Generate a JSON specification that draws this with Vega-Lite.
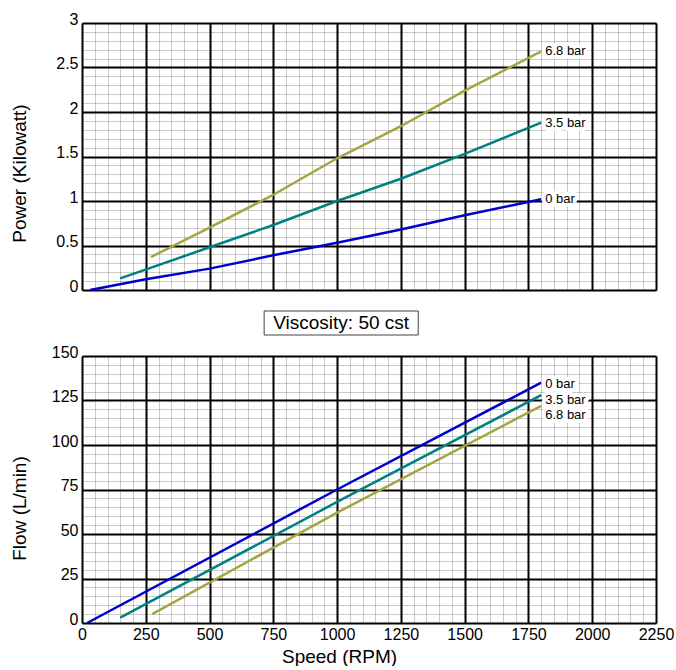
{
  "$schema": "https://vega.github.io/schema/vega-lite/v6.json",
  "background": "white",
  "padding": {"left": 10, "top": 11, "right": 0, "bottom": 0},
  "config": {
    "font": "Liberation Sans",
    "view": {"stroke": null},
    "axis": {"labelColor": "black", "titleColor": "black", "titleFontWeight": "normal", "labelFlush": false, "labelOverlap": false, "labelBound": false}
  },
  "datasets": {
    "curves": [
      {"chart": "Power", "series": "0 bar", "speed": 32, "value": 0},
      {"chart": "Power", "series": "0 bar", "speed": 250, "value": 0.12},
      {"chart": "Power", "series": "0 bar", "speed": 500, "value": 0.24},
      {"chart": "Power", "series": "0 bar", "speed": 750, "value": 0.39},
      {"chart": "Power", "series": "0 bar", "speed": 1000, "value": 0.53},
      {"chart": "Power", "series": "0 bar", "speed": 1250, "value": 0.68},
      {"chart": "Power", "series": "0 bar", "speed": 1500, "value": 0.84},
      {"chart": "Power", "series": "0 bar", "speed": 1800, "value": 1.02},
      {"chart": "Power", "series": "3.5 bar", "speed": 150, "value": 0.13},
      {"chart": "Power", "series": "3.5 bar", "speed": 500, "value": 0.48},
      {"chart": "Power", "series": "3.5 bar", "speed": 750, "value": 0.73},
      {"chart": "Power", "series": "3.5 bar", "speed": 1000, "value": 1.0},
      {"chart": "Power", "series": "3.5 bar", "speed": 1250, "value": 1.25},
      {"chart": "Power", "series": "3.5 bar", "speed": 1500, "value": 1.53},
      {"chart": "Power", "series": "3.5 bar", "speed": 1800, "value": 1.88},
      {"chart": "Power", "series": "6.8 bar", "speed": 270, "value": 0.37},
      {"chart": "Power", "series": "6.8 bar", "speed": 500, "value": 0.7},
      {"chart": "Power", "series": "6.8 bar", "speed": 750, "value": 1.07},
      {"chart": "Power", "series": "6.8 bar", "speed": 1000, "value": 1.48},
      {"chart": "Power", "series": "6.8 bar", "speed": 1250, "value": 1.84},
      {"chart": "Power", "series": "6.8 bar", "speed": 1500, "value": 2.24},
      {"chart": "Power", "series": "6.8 bar", "speed": 1800, "value": 2.68},
      {"chart": "Flow", "series": "0 bar", "speed": 20, "value": 0},
      {"chart": "Flow", "series": "0 bar", "speed": 1000, "value": 75},
      {"chart": "Flow", "series": "0 bar", "speed": 1800, "value": 135},
      {"chart": "Flow", "series": "3.5 bar", "speed": 150, "value": 3},
      {"chart": "Flow", "series": "3.5 bar", "speed": 1000, "value": 68},
      {"chart": "Flow", "series": "3.5 bar", "speed": 1800, "value": 128},
      {"chart": "Flow", "series": "6.8 bar", "speed": 275, "value": 5},
      {"chart": "Flow", "series": "6.8 bar", "speed": 1000, "value": 62},
      {"chart": "Flow", "series": "6.8 bar", "speed": 1800, "value": 122}
    ],
    "note": [{"label": "Viscosity: 50 cst", "start": 714, "end": 1318, "mid": 1016}]
  },
  "bounds": "flush",
  "spacing": 21,
  "vconcat": [
    {
      "width": 574,
      "height": 267,
      "data": {"name": "curves"},
      "transform": [{"filter": "datum.chart === 'Power'"}],
      "layer": [
        {
          "mark": {"type": "line", "strokeWidth": 2.5},
          "encoding": {
            "x": {"field": "speed", "type": "quantitative", "scale": {"domain": [0, 2250], "nice": false, "zero": false},
              "axis": {"orient": "bottom", "values": [0,50,100,150,200,250,300,350,400,450,500,550,600,650,700,750,800,850,900,950,1000,1050,1100,1150,1200,1250,1300,1350,1400,1450,1500,1550,1600,1650,1700,1750,1800,1850,1900,1950,2000,2050,2100,2150,2200,2250],
                "grid": true, "gridColor": "#c8c8c8", "gridWidth": 1, "labels": false, "ticks": false, "domain": false, "title": null, "zindex": 0}},
            "y": {"field": "value", "type": "quantitative", "scale": {"domain": [0, 3], "nice": false},
              "axis": {"orient": "left", "values": [0,0.1,0.2,0.3,0.4,0.5,0.6,0.7,0.8,0.9,1,1.1,1.2,1.3,1.4,1.5,1.6,1.7,1.8,1.9,2,2.1,2.2,2.3,2.4,2.5,2.6,2.7,2.8,2.9,3],
                "grid": true, "gridColor": "black", "gridOpacity": 0.2, "gridWidth": 1, "labels": false, "ticks": false, "domain": false, "title": null, "zindex": 0}},
            "color": {"field": "series", "type": "nominal", "scale": {"domain": ["0 bar", "3.5 bar", "6.8 bar"], "range": ["#0000c8", "#008080", "#a5a53f"]}, "legend": null}
          }
        },
        {
          "transform": [{"filter": "datum.speed === 1800"}],
          "mark": {"type": "text", "align": "left", "baseline": "middle", "dx": 4, "fontSize": 13, "fill": "white", "stroke": "white", "strokeWidth": 8, "strokeJoin": "round"},
          "encoding": {
            "x": {"field": "speed", "type": "quantitative",
              "axis": {"orient": "bottom", "values": [0,250,500,750,1000,1250,1500,1750,2000,2250], "grid": true, "gridColor": "black", "gridWidth": 2, "labels": false, "ticks": false, "domain": false, "title": null, "zindex": 0}},
            "y": {"field": "value", "type": "quantitative",
              "axis": {"orient": "left", "values": [0,0.5,1,1.5,2,2.5,3], "grid": true, "gridColor": "black", "gridWidth": 2, "ticks": false, "domain": false, "labelExpr": "'' + datum.value", "labelFontSize": 16, "labelPadding": 4, "labelOffset": -4, "title": "Power (Kilowatt)", "titleFontSize": 19, "titleX": -53, "titleY": 150, "zindex": 0}},
            "text": {"field": "series"}
          }
        },
        {
          "transform": [{"filter": "datum.speed === 1800"}],
          "mark": {"type": "text", "align": "left", "baseline": "middle", "dx": 4, "fontSize": 13, "fill": "black"},
          "encoding": {
            "x": {"field": "speed", "type": "quantitative", "axis": null},
            "y": {"field": "value", "type": "quantitative", "axis": null},
            "text": {"field": "series"}
          }
        }
      ],
      "resolve": {"axis": {"x": "independent", "y": "independent"}}
    },
    {
      "width": 574,
      "height": 24,
      "data": {"name": "note"},
      "layer": [
        {
          "mark": {"type": "rect", "fill": "white", "stroke": "#444", "strokeWidth": 1},
          "encoding": {
            "x": {"field": "start", "type": "quantitative", "scale": {"domain": [0, 2250], "nice": false, "zero": false}, "axis": null},
            "x2": {"field": "end"}
          }
        },
        {
          "mark": {"type": "text", "fontSize": 19, "baseline": "middle", "align": "center", "fill": "black"},
          "encoding": {
            "x": {"field": "mid", "type": "quantitative", "axis": null},
            "text": {"field": "label"}
          }
        }
      ]
    },
    {
      "width": 574,
      "height": 267,
      "data": {"name": "curves"},
      "transform": [{"filter": "datum.chart === 'Flow'"}],
      "layer": [
        {
          "mark": {"type": "line", "strokeWidth": 2.5},
          "encoding": {
            "x": {"field": "speed", "type": "quantitative", "scale": {"domain": [0, 2250], "nice": false, "zero": false},
              "axis": {"orient": "bottom", "values": [0,50,100,150,200,250,300,350,400,450,500,550,600,650,700,750,800,850,900,950,1000,1050,1100,1150,1200,1250,1300,1350,1400,1450,1500,1550,1600,1650,1700,1750,1800,1850,1900,1950,2000,2050,2100,2150,2200,2250],
                "grid": true, "gridColor": "#c8c8c8", "gridWidth": 1, "labels": false, "ticks": false, "domain": false, "title": null, "zindex": 0}},
            "y": {"field": "value", "type": "quantitative", "scale": {"domain": [0, 150], "nice": false},
              "axis": {"orient": "left", "values": [0,5,10,15,20,25,30,35,40,45,50,55,60,65,70,75,80,85,90,95,100,105,110,115,120,125,130,135,140,145,150],
                "grid": true, "gridColor": "black", "gridOpacity": 0.2, "gridWidth": 1, "labels": false, "ticks": false, "domain": false, "title": null, "zindex": 0}},
            "color": {"field": "series", "type": "nominal", "scale": {"domain": ["0 bar", "3.5 bar", "6.8 bar"], "range": ["#0000c8", "#008080", "#a5a53f"]}, "legend": null}
          }
        },
        {
          "transform": [{"filter": "datum.speed === 1800 && datum.series === '0 bar'"}],
          "mark": {"type": "text", "align": "left", "baseline": "middle", "dx": 4, "dy": 1, "fontSize": 13, "fill": "white", "stroke": "white", "strokeWidth": 8, "strokeJoin": "round"},
          "encoding": {
            "x": {"field": "speed", "type": "quantitative",
              "axis": {"orient": "bottom", "values": [0,250,500,750,1000,1250,1500,1750,2000,2250], "grid": true, "gridColor": "black", "gridWidth": 2, "ticks": false, "domain": false, "labelExpr": "'' + datum.value", "labelFontSize": 16, "labelPadding": 3, "title": "Speed (RPM)", "titleFontSize": 19, "titleX": 257, "titleY": 33, "titleBaseline": "middle", "titleAlign": "center", "zindex": 0}},
            "y": {"field": "value", "type": "quantitative",
              "axis": {"orient": "left", "values": [0,25,50,75,100,125,150], "grid": true, "gridColor": "black", "gridWidth": 2, "ticks": false, "domain": false, "labelExpr": "'' + datum.value", "labelFontSize": 16, "labelPadding": 4, "labelOffset": -4, "title": "Flow (L/min)", "titleFontSize": 19, "titleX": -53, "titleY": 152, "zindex": 0}},
            "text": {"field": "series"}
          }
        },
        {
          "transform": [{"filter": "datum.speed === 1800 && datum.series === '3.5 bar'"}],
          "mark": {"type": "text", "align": "left", "baseline": "middle", "dx": 4, "dy": 5, "fontSize": 13, "fill": "white", "stroke": "white", "strokeWidth": 8, "strokeJoin": "round"},
          "encoding": {
            "x": {"field": "speed", "type": "quantitative", "axis": null},
            "y": {"field": "value", "type": "quantitative", "axis": null},
            "text": {"field": "series"}
          }
        },
        {
          "transform": [{"filter": "datum.speed === 1800 && datum.series === '6.8 bar'"}],
          "mark": {"type": "text", "align": "left", "baseline": "middle", "dx": 4, "dy": 9, "fontSize": 13, "fill": "white", "stroke": "white", "strokeWidth": 8, "strokeJoin": "round"},
          "encoding": {
            "x": {"field": "speed", "type": "quantitative", "axis": null},
            "y": {"field": "value", "type": "quantitative", "axis": null},
            "text": {"field": "series"}
          }
        },
        {
          "transform": [{"filter": "datum.speed === 1800 && datum.series === '0 bar'"}],
          "mark": {"type": "text", "align": "left", "baseline": "middle", "dx": 4, "dy": 1, "fontSize": 13, "fill": "black"},
          "encoding": {
            "x": {"field": "speed", "type": "quantitative", "axis": null},
            "y": {"field": "value", "type": "quantitative", "axis": null},
            "text": {"field": "series"}
          }
        },
        {
          "transform": [{"filter": "datum.speed === 1800 && datum.series === '3.5 bar'"}],
          "mark": {"type": "text", "align": "left", "baseline": "middle", "dx": 4, "dy": 5, "fontSize": 13, "fill": "black"},
          "encoding": {
            "x": {"field": "speed", "type": "quantitative", "axis": null},
            "y": {"field": "value", "type": "quantitative", "axis": null},
            "text": {"field": "series"}
          }
        },
        {
          "transform": [{"filter": "datum.speed === 1800 && datum.series === '6.8 bar'"}],
          "mark": {"type": "text", "align": "left", "baseline": "middle", "dx": 4, "dy": 9, "fontSize": 13, "fill": "black"},
          "encoding": {
            "x": {"field": "speed", "type": "quantitative", "axis": null},
            "y": {"field": "value", "type": "quantitative", "axis": null},
            "text": {"field": "series"}
          }
        }
      ],
      "resolve": {"axis": {"x": "independent", "y": "independent"}}
    }
  ]
}
